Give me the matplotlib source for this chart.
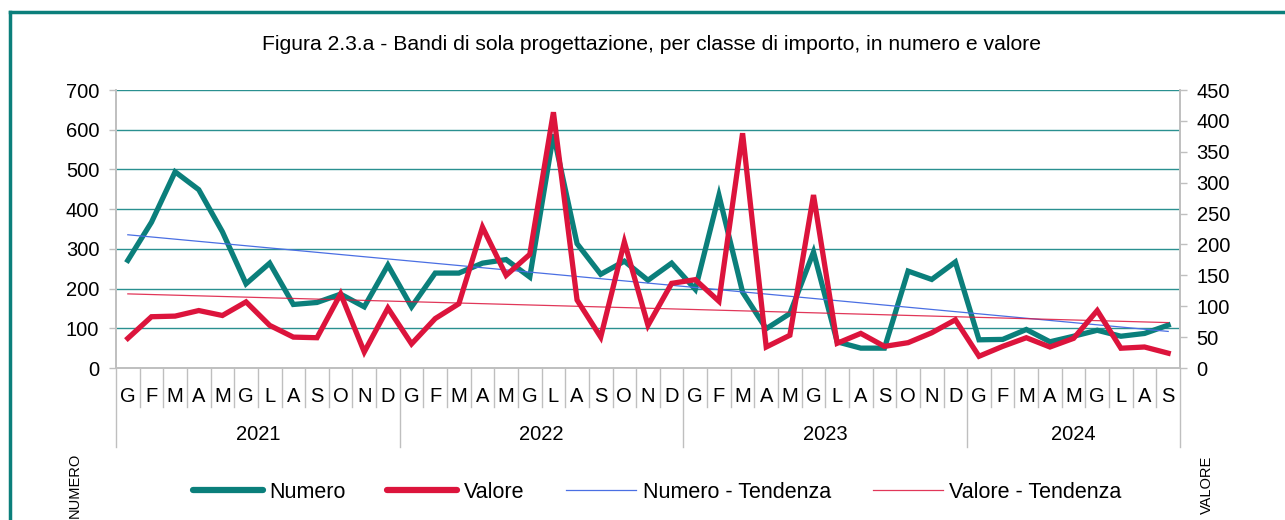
import numpy as np
import matplotlib
matplotlib.use("Agg")
import matplotlib.pyplot as plt
from matplotlib.lines import Line2D
import matplotlib.transforms as mtransforms

plt.rcParams['font.family'] = ['Liberation Sans', 'DejaVu Sans']

title = "Figura 2.3.a - Bandi di sola progettazione, per classe di importo, in numero e valore"
years = ["2021", "2022", "2023", "2024"]
months_per_year = [12, 12, 12, 9]
month_letters = ["G", "F", "M", "A", "M", "G", "L", "A", "S", "O", "N", "D"]

numero = [271, 367, 494, 449, 343, 212, 264, 160, 165, 186, 154, 259,
          154, 239, 239, 264, 273, 229, 588, 313, 236, 269, 221, 264,
          198, 435, 191, 99, 137, 292, 66, 50, 50, 244, 223, 267,
          71, 72, 97, 66, 80, 95, 80, 87, 108]
valore = [48, 83, 84, 93, 85, 107, 69, 50, 49, 120, 26, 97,
          39, 80, 104, 228, 150, 184, 414, 110, 50, 204, 69, 137,
          143, 108, 380, 34, 53, 280, 40, 56, 35, 41, 57, 78,
          19, 35, 49, 34, 48, 93, 32, 34, 24]

months = []
for n in months_per_year:
    months += month_letters[:n]

TEAL = "#0b7f7b"
RED = "#dc143c"
BLUE = "#4a6fe3"
GRID = "#2a9090"
GREY = "#bfbfbf"

W, H = 1285, 520
fig = plt.figure(figsize=(W / 100, H / 100), dpi=100)
ax = fig.add_axes([116 / W, (H - 368) / H, (1180 - 116) / W, (368 - 90) / H])
ax2 = ax.twinx()

x = np.arange(len(numero))
# trend lines (least squares)
cn = np.polyfit(x, numero, 1)
cv = np.polyfit(x, valore, 1)

ax.plot(x, numero, color=TEAL, lw=3.8, solid_joinstyle='miter', zorder=3, label="Numero")
ax.plot(x, np.polyval(cn, x), color=BLUE, lw=0.9, zorder=4, label="Numero - Tendenza")
ax2.plot(x, valore, color=RED, lw=3.8, solid_joinstyle='miter', zorder=3, label="Valore")
ax2.plot(x, np.polyval(cv, x), color=RED, lw=0.9, alpha=0.85, zorder=4, label="Valore - Tendenza")

ax.set_xlim(-0.5, len(numero) - 0.5)
ax.set_ylim(0, 700)
ax2.set_ylim(0, 450)
ax.set_yticks(np.arange(0, 701, 100))
ax2.set_yticks(np.arange(0, 451, 50))
ax.yaxis.grid(True, color=GRID, lw=1.0)
ax.set_axisbelow(True)

for a in (ax, ax2):
    for s in a.spines.values():
        s.set_color(GREY)
        s.set_linewidth(1.2)
    a.spines['top'].set_visible(False)
    a.tick_params(axis='y', length=5, width=1, color=GREY, labelsize=14.5, pad=7)
    a.set_xticks([])

# category axis: month letters, separators, year labels
trans = mtransforms.blended_transform_factory(ax.transData, ax.transAxes)
px = 1.0 / (368 - 90)  # axes-fraction per pixel
for i, m in enumerate(months):
    ax.text(i, -28 * px, m, transform=trans, ha='center', va='center', fontsize=14.5, clip_on=False)
bounds = np.cumsum([0] + months_per_year) - 0.5
year_b = set(bounds.tolist())
for b in np.arange(-0.5, len(months), 1.0):
    depth = 79 if b in year_b else 39
    ax.add_line(Line2D([b, b], [0, -depth * px], transform=trans, color=GREY, lw=1, clip_on=False))
for k, yr in enumerate(years):
    c = (bounds[k] + bounds[k + 1]) / 2
    ax.text(c, -66 * px, yr, transform=trans, ha='center', va='center', fontsize=14.5, clip_on=False)

fig.text(651 / W, 1 - 45 / H, title, ha='center', va='center', fontsize=15.2)

fig.text(75 / W, 1 - 485 / H, "NUMERO", rotation=90, ha='center', va='center', fontsize=10.5)
fig.text(1207 / W, 1 - 485 / H, "VALORE", rotation=90, ha='center', va='center', fontsize=10.5)

handles = [Line2D([], [], color=TEAL, lw=4.5, solid_capstyle='round'),
           Line2D([], [], color=RED, lw=4.5, solid_capstyle='round'),
           Line2D([], [], color=BLUE, lw=0.9),
           Line2D([], [], color=RED, lw=0.9, alpha=0.85)]
labels = ["Numero", "Valore", "Numero - Tendenza", "Valore - Tendenza"]
fig.legend(handles, labels, loc='center', bbox_to_anchor=(657 / W, 1 - 492 / H), ncol=4,
           frameon=False, fontsize=15.5, handlelength=3.25, handletextpad=0.3,
           columnspacing=1.95, borderpad=0)

# frame (top and left)
fig.add_artist(Line2D([10 / W, 10 / W], [0, 1 - 12 / H], transform=fig.transFigure, color=TEAL, lw=2.5))
fig.add_artist(Line2D([10 / W, 1], [1 - 12 / H, 1 - 12 / H], transform=fig.transFigure, color=TEAL, lw=2.5))

fig.savefig("out.png", dpi=100)
